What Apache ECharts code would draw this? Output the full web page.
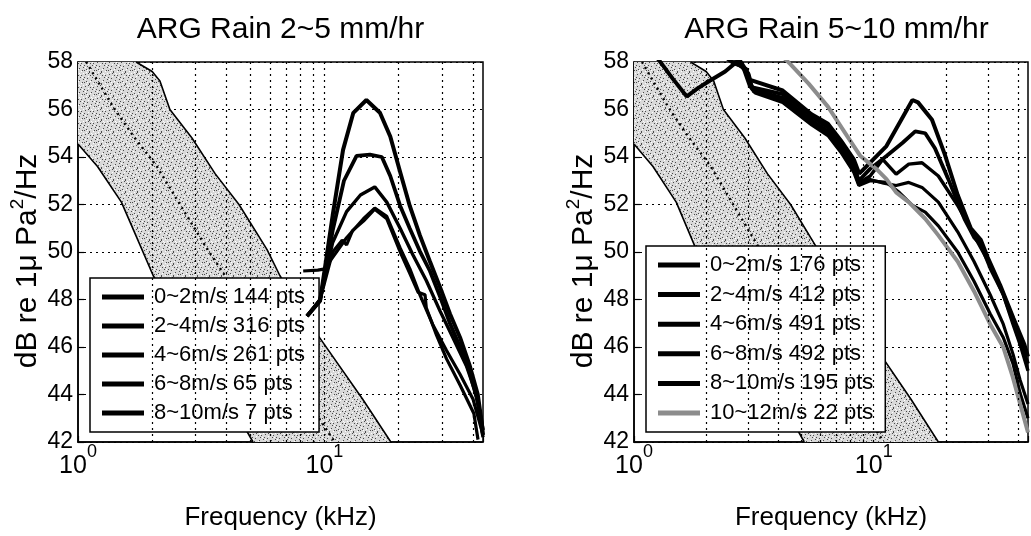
<!DOCTYPE html>
<html><head><meta charset="utf-8">
<script src="https://cdn.jsdelivr.net/npm/echarts@6/dist/echarts.min.js"></script>
<style>html,body{margin:0;padding:0;background:#fff}#c{width:1031px;height:536px}</style>
</head><body><div id="c"></div>
<script>
const FONT = "'Liberation Sans',Arial,Helvetica,sans-serif";
const WEIGHT = 'normal';

// ---- axes / labels ----
const panelTitles = ['ARG Rain 2~5 mm/hr', 'ARG Rain 5~10 mm/hr'];
const xAxisName = 'Frequency (kHz)';
const yMin = 42, yMax = 58, yStep = 2;
const xMin = 1, xMax = 44;
const xGridValues = [2, 3, 4, 5, 6, 7, 8, 9, 10, 20, 30, 40];

// ---- reference band (same in both panels) ----
const bandUpper = [[1.72,58],[2.0,57.6],[2.15,57.2],[2.36,56.0],[2.9,54.8],[3.6,53.3],[4.5,52.0],[5.85,50.1],[6.6,49.0],[9.4,46.5],[14.3,43.8],[18.6,42]];
const bandLower = [[1,54.55],[1.2,53.6],[1.5,52.1],[1.75,50.5],[2.02,49.0],[3.17,45.8],[5.13,42]];
const bandCenter = [[1.08,58],[1.39,56.1],[1.68,54.87],[2.09,53.6],[2.51,52.24],[3.33,50.16],[6.05,46.1],[11,42]];

// ---- left panel: ARG Rain 2~5 mm/hr ----
const rain25Names = ['0~2m/s 144 pts','2~4m/s 316 pts','4~6m/s 261 pts','6~8m/s 65 pts','8~10m/s 7 pts'];
const rain25_0_2 = [[8.5,47.3],[9.6,47.95],[10.8,51.54],[11.9,54.3],[13.1,55.86],[14.8,56.4],[16.8,55.86],[18.5,54.86],[20.3,53.36],[22.2,51.94],[24.4,50.7],[26.8,49.6],[29.5,48.5],[32.3,47.4],[35.5,46.4],[38.9,45.2],[41.9,44.0],[43.5,42.8],[44,42.3]];
const rain25_2_4 = [[8.5,47.3],[9.6,47.95],[10.8,50.9],[12.0,53.0],[13.5,54.05],[15.3,54.1],[17.1,54.0],[18.5,53.2],[20.3,51.94],[22.2,50.99],[24.4,50.03],[26.8,49.2],[29.5,48.1],[32.3,47.0],[35.5,46.0],[38.9,44.9],[41.9,43.7],[44,42.5]];
const rain25_4_6 = [[8.5,47.3],[9.6,48.0],[10.8,50.4],[12.3,51.7],[14.0,52.4],[16.0,52.74],[17.9,52.1],[20.3,50.99],[22.9,49.86],[25.9,48.8],[29.5,47.5],[33.2,46.4],[37.7,45.2],[41.3,44.0],[44,42.2]];
const rain25_6_8 = [[8.2,49.2],[9.4,49.24],[10.2,49.3],[10.5,49.6],[12.3,50.6],[14.4,51.4],[16.0,51.85],[17.9,51.5],[20.3,50.16],[22.2,49.3],[24.4,48.2],[27.5,46.95],[31.3,45.85],[35.5,44.85],[40.1,43.8],[44,42.3]];
const rain25_8_10 = [[8.5,47.3],[9.6,48.0],[10.8,50.0],[11.8,50.5],[12.3,50.3],[13.0,50.9],[14.4,51.3],[16.0,51.8],[17.9,51.4],[20.3,50.0],[22.2,49.1],[24.0,48.3],[25.6,48.2],[25.9,47.65],[28.5,46.5],[31.3,45.5],[35.5,44.4],[40.4,43.2],[42,42.1]];

// ---- right panel: ARG Rain 5~10 mm/hr ----
const rain510Names = ['0~2m/s 176 pts','2~4m/s 412 pts','4~6m/s 491 pts','6~8m/s 492 pts','8~10m/s 195 pts','10~12m/s 22 pts'];
const rain510_0_2 = [[1.15,58.6],[1.275,58.06],[1.45,57.3],[1.66,56.55],[1.85,56.9],[2.03,57.16],[2.4,57.6],[2.75,58.1],[3.0,57.5],[3.05,57.25],[4.17,56.8],[5.5,55.8],[6.44,55.4],[7.29,54.7],[8.26,53.9],[8.7,53.3],[9.66,53.76],[11.3,54.46],[12.8,55.43],[14.5,56.4],[15.3,56.3],[17.5,55.57],[19.8,54.1],[22.4,52.4],[25.4,51.0],[28,50.5],[29.8,49.8],[33.7,48.6],[38.3,47.2],[42.5,46.1],[44,45.6]];
const rain510_2_4 = [[2.2,58.5],[2.6,57.95],[2.85,57.8],[3.05,56.95],[4.17,56.65],[5.51,55.7],[6.44,55.25],[7.29,54.55],[8.26,53.7],[8.66,53.0],[9.66,53.5],[11.3,54.04],[13.2,54.6],[14.9,55.08],[16.4,55.0],[18.0,54.37],[20.4,53.1],[23.9,51.4],[26.3,50.6],[28,50.3],[30.7,49.3],[34.8,48.2],[39.5,46.66],[42.5,45.7],[44,45.3]];
const rain510_4_6 = [[2.3,58.5],[2.7,57.9],[2.95,57.7],[3.1,56.85],[4.17,56.5],[5.51,55.55],[6.44,55.1],[7.29,54.4],[8.26,53.55],[8.66,52.9],[9.66,53.2],[10.9,53.9],[12.4,53.28],[14.0,53.7],[15.9,53.76],[18.6,53.2],[22.4,51.96],[26.2,50.7],[30.6,49.46],[34.7,48.2],[38.1,46.96],[40.8,46.1],[44,45.0]];
const rain510_6_8 = [[2.4,58.4],[2.8,57.8],[3.0,57.5],[3.15,56.75],[4.17,56.4],[5.51,55.45],[6.44,55.0],[7.29,54.3],[8.26,53.45],[8.66,52.85],[9.66,53.05],[11.0,52.9],[12.4,52.8],[14.0,52.93],[15.9,52.72],[18.6,52.1],[22.4,50.85],[26.2,49.6],[30.6,48.2],[34.7,46.96],[38.1,45.7],[40.8,44.6],[44,43.6]];
const rain510_8_10 = [[2.5,58.4],[2.9,57.7],[3.2,56.7],[4.17,56.3],[5.51,55.35],[6.44,54.9],[7.29,54.2],[8.26,53.35],[8.66,52.8],[9.66,53.0],[11.3,52.93],[12.8,52.5],[14.5,51.96],[16.4,51.68],[18.6,51.1],[22.4,50.0],[26.2,48.77],[30.6,47.4],[34.7,46.4],[38.1,45.3],[40.8,44.05],[44,43.0]];
const rain510_10_12 = [[4.0,58.4],[4.5,57.9],[5.35,57.09],[6.44,56.12],[7.76,54.87],[8.8,54.04],[10.3,53.48],[11.3,53.07],[12.4,52.51],[14.0,52.1],[16.4,51.4],[18.6,50.7],[22.4,49.6],[26.2,48.35],[30.6,46.96],[34.7,45.99],[38.0,44.74],[40.8,43.6],[44,42.4]];

// ---- stipple texture for the band ----
const pat = document.createElement('canvas');
pat.width = 12; pat.height = 12;
(function(){
  const g = pat.getContext('2d');
  g.fillStyle = '#d9d9d9'; g.fillRect(0,0,12,12);
  g.fillStyle = '#4a4a4a';
  [[1,2],[5,0],[9,3],[3,6],[7,8],[11,7],[0,10],[5,11],[8,5],[2,9],[10,10],[6,3],[4,1],[0,5]].forEach(p => g.fillRect(p[0],p[1],1,1));
  g.fillStyle = '#ffffff';
  [[2,0],[7,1],[10,5],[1,7],[6,9],[9,11],[4,4],[11,1],[3,10],[8,2]].forEach(p => g.fillRect(p[0],p[1],1,1));
})();

const grids = [
  {left:78, top:62, width:405, height:384},
  {left:634, top:62, width:405, height:384}
];

function xAxisFor(i){
  return {
    type:'log', logBase:10, gridIndex:i, min:xMin, max:xMax,
    axisLine:{show:true, lineStyle:{color:'#000', width:1.5}},
    axisTick:{show:true, inside:true, length:6, lineStyle:{color:'#000', width:1.2}},
    minorTick:{show:false}, splitLine:{show:false},
    axisLabel:{
      margin:1, color:'#000',
      formatter: v => {
        const e = Math.log10(v);
        if (Math.abs(e - Math.round(e)) > 1e-6) return '';
        return '{b|10}{s|' + Math.round(e) + '}';
      },
      rich:{
        b:{fontFamily:FONT, fontWeight:WEIGHT, fontSize:25, color:'#000', lineHeight:36, verticalAlign:'bottom'},
        s:{fontFamily:FONT, fontWeight:WEIGHT, fontSize:18, color:'#000', lineHeight:18, verticalAlign:'top'}
      }
    },
    name:xAxisName, nameLocation:'middle', nameGap:63,
    nameTextStyle:{fontFamily:FONT, fontWeight:WEIGHT, fontSize:26, color:'#000'}
  };
}
function yAxisFor(i){
  return {
    type:'value', gridIndex:i, min:yMin, max:yMax, interval:yStep,
    axisLine:{show:true, lineStyle:{color:'#000', width:1.5}},
    axisTick:{show:true, inside:true, length:6, lineStyle:{color:'#000', width:1.2}},
    splitLine:{show:true, lineStyle:{color:'#000', width:1.2, type:[2,4]}},
    axisLabel:{margin:5, color:'#000', fontFamily:FONT, fontWeight:WEIGHT, fontSize:23},
    name:'{a|dB re 1μ Pa}{s|2}{a|/Hz}', nameLocation:'middle', nameGap:35,
    nameTextStyle:{color:'#000', padding:[0,18,0,0],
      rich:{a:{fontFamily:FONT, fontWeight:WEIGHT, fontSize:30, color:'#000', lineHeight:35, verticalAlign:'bottom'},
            s:{fontFamily:FONT, fontWeight:WEIGHT, fontSize:19, color:'#000', lineHeight:19, verticalAlign:'top'}}}
  };
}

function gridLineSeries(i){
  return {type:'line', xAxisIndex:i, yAxisIndex:i, data:[[xMin,yMin]], symbol:'none', z:1, silent:true,
    lineStyle:{width:0, opacity:0},
    markLine:{silent:true, symbol:'none', label:{show:false}, animation:false,
      lineStyle:{color:'#000', width:1.2, type:[2,4]},
      data:xGridValues.map(v => ({xAxis:v}))}};
}
function bandSeries(i){
  return {type:'custom', xAxisIndex:i, yAxisIndex:i, z:2, silent:true, clip:true,
    data:[[xMin,yMax]],
    renderItem:(params, api) => {
      const poly = [[xMin,yMax]].concat(bandUpper, bandLower.slice().reverse());
      return {type:'polygon', shape:{points:poly.map(p => api.coord(p))},
        style:{fill:{image:pat, repeat:'repeat'}, stroke:null}};
    }};
}
function plainLine(i, data, width, type){
  return {type:'line', xAxisIndex:i, yAxisIndex:i, data, symbol:'none', showSymbol:false, z:3, silent:true, clip:true,
    lineStyle:{color:'#000', width, type:type || 'solid'}};
}
function curve(i, name, data, width, color){
  return {type:'line', name, xAxisIndex:i, yAxisIndex:i, data, symbol:'none', showSymbol:false, z:4, clip:true,
    lineStyle:{color:color, width}, itemStyle:{color:color}};
}

const series = [];
[0,1].forEach(i => {
  series.push(gridLineSeries(i), bandSeries(i),
    plainLine(i, bandUpper, 1.6), plainLine(i, bandLower, 1.6), plainLine(i, bandCenter, 2.4, [2,4]));
});
const leftData = [rain25_0_2, rain25_2_4, rain25_4_6, rain25_6_8, rain25_8_10];
const leftW = [4, 3.8, 3.4, 3.2, 3.2];
rain25Names.forEach((n, k) => series.push(curve(0, n, leftData[k], leftW[k], '#000')));
const rightData = [rain510_0_2, rain510_2_4, rain510_4_6, rain510_6_8, rain510_8_10, rain510_10_12];
const rightW = [4, 3.8, 3.4, 3.2, 3.2, 4];
const rightC = ['#000','#000','#000','#000','#000','#8c8c8c'];
rain510Names.forEach((n, k) => series.push(curve(1, n, rightData[k], rightW[k], rightC[k])));

function legendFor(names, left, top, gap, pad){
  return {data:names, orient:'vertical', left, top, selectedMode:false,
    backgroundColor:'#fff', borderColor:'#000', borderWidth:1.5, borderRadius:0,
    padding:pad, itemGap:gap, itemWidth:42, itemHeight:5, icon:'rect',
    textStyle:{fontFamily:FONT, fontWeight:WEIGHT, fontSize:22, color:'#000', lineHeight:24, padding:[0,0,0,5]}};
}

const chart = echarts.init(document.getElementById('c'), null, {renderer:'canvas'});
chart.setOption({
  animation:false,
  backgroundColor:'#fff',
  grid: grids.map(g => Object.assign({show:true, borderColor:'#000', borderWidth:1.5, backgroundColor:'rgba(0,0,0,0)'}, g)),
  xAxis:[xAxisFor(0), xAxisFor(1)],
  yAxis:[yAxisFor(0), yAxisFor(1)],
  legend:[legendFor(rain25Names, 90, 278, 5, [7,14,7,12]), legendFor(rain510Names, 646, 246, 5.6, [7,12,7,12])],
  graphic: panelTitles.map((t, i) => ({type:'text', x: grids[i].left + grids[i].width/2, y: 30, silent:true,
    style:{text:t, fontFamily:FONT, fontWeight:WEIGHT, fontSize:30, fill:'#000', align:'center', verticalAlign:'middle', textAlign:'center', textVerticalAlign:'middle'}})),
  series
});
</script></body></html>
